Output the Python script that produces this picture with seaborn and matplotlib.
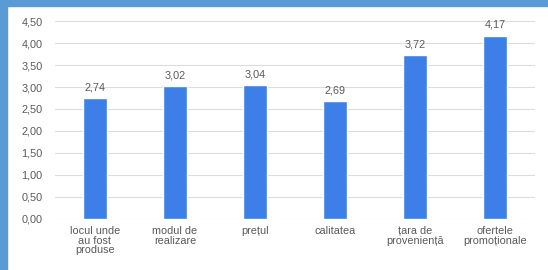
import matplotlib
matplotlib.use("Agg")
from matplotlib import pyplot as plt
from matplotlib.patches import Rectangle
import seaborn as sns
import pandas as pd

categories = ["locul unde\nau fost\nproduse", "modul de\nrealizare", "prețul",
              "calitatea", "țara de\nproveniență", "ofertele\npromoționale"]
values = [2.74, 3.02, 3.04, 2.69, 3.72, 4.17]
y_ticks = [0, 0.5, 1, 1.5, 2, 2.5, 3, 3.5, 4, 4.5]

sns.set_theme(style="white")
plt.rcParams['font.family'] = ['Liberation Sans', 'DejaVu Sans']

df = pd.DataFrame({"cat": categories, "val": values})

fig = plt.figure(figsize=(5.48, 2.70), dpi=100)
ax = fig.add_axes([55 / 548, 51 / 270, 480 / 548, 198 / 270])

sns.barplot(data=df, x="cat", y="val", color="#3d7fe6", saturation=1, width=0.31, ax=ax)

ax.set_ylim(0, 4.5)
ax.set_yticks(y_ticks)
ax.set_yticklabels([f"{t:.2f}".replace(".", ",") for t in y_ticks])
ax.yaxis.grid(True, color="#dcdcdc", linewidth=0.8)
ax.set_axisbelow(True)
for s in ax.spines.values():
    s.set_visible(False)
ax.tick_params(axis="both", length=0, labelsize=7.8, colors="#595959")
ax.tick_params(axis="y", pad=9)
ax.tick_params(axis="x", pad=5)
ax.set_xlabel("")
ax.set_ylabel("")
for lbl in ax.get_xticklabels():
    lbl.set_linespacing(0.95)

for i, v in enumerate(values):
    ax.annotate(f"{v:.2f}".replace(".", ","), (i, v), xytext=(0, 4), textcoords="offset points",
                ha="center", va="bottom", fontsize=7.8, color="#595959")

# blue frame on left and top
fig.patches.append(Rectangle((0, 0), 7 / 548, 1, transform=fig.transFigure, color="#5b9bd5", zorder=10))
fig.patches.append(Rectangle((0, 1 - 6 / 270), 1, 6 / 270, transform=fig.transFigure, color="#5b9bd5", zorder=10))

fig.savefig("out.png", dpi=100)
